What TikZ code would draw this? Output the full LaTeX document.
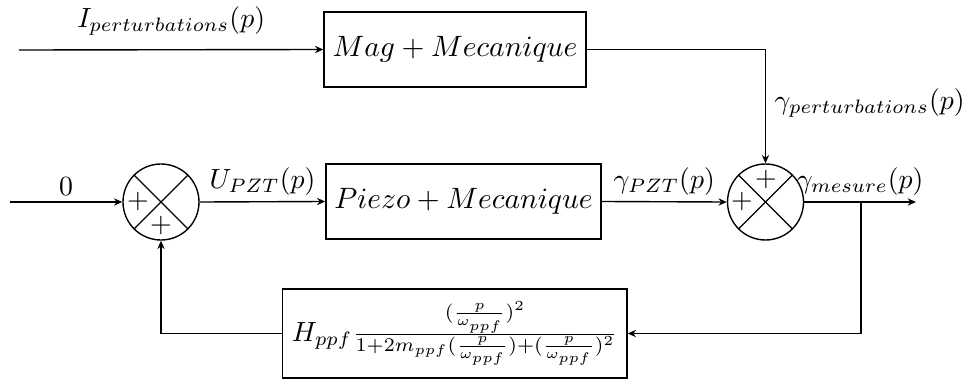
\documentclass[tikz,border=0pt]{standalone}
\usetikzlibrary{arrows.meta}
\begin{document}
\begin{tikzpicture}[x=0.36pt,y=-0.36pt, line width=0.5pt,
  blk/.style={draw, rectangle, inner sep=0pt, line width=0.5pt},
  sumnode/.style={draw, circle, minimum size=27.36pt, inner sep=0pt},
  arr/.style={-{Stealth[length=3pt,width=2.6pt]}},
  lbl/.style={inner sep=2pt},
  pl/.style={inner sep=0pt}]
\useasboundingbox (0,0) rectangle (966,379);
\node[blk, minimum width=94.3pt, minimum height=27pt] (mag) at (455,49.5) {\scalebox{1.06}{$Mag+Mecanique$}};
\node[blk, minimum width=99pt, minimum height=27pt] (piezo) at (463.5,201.5) {\scalebox{1.06}{$Piezo+Mecanique$}};
\node[sumnode] (s1) at (161,202) {};
\node[sumnode] (s2) at (765.5,202) {};
\draw (s1.north west) -- (s1.south east);
\draw (s1.north east) -- (s1.south west);
\draw (s2.north west) -- (s2.south east);
\draw (s2.north east) -- (s2.south west);
\node[pl] (p1a) at (138,202) {$+$};
\node[pl] (p1b) at (161,226) {$+$};
\node[pl] (p2a) at (766,180) {$+$};
\node[pl] (p2b) at (742,202) {$+$};
\node[blk, inner sep=3.33pt, minimum height=32pt, anchor=west] (H) at (282,333.5)
  {$H_{ppf}\frac{(\frac{p}{\omega_{ppf}})^2}{1+2m_{ppf}(\frac{p}{\omega_{ppf}})+(\frac{p}{\omega_{ppf}})^2}$};
\coordinate (in1) at (19,50);
\coordinate (in0) at (10,202);
\coordinate (out) at (916,202);
\coordinate (br) at (861,202);
\draw[arr] (in1) -- node[above, lbl, yshift=2.9pt] (lI) {$I_{perturbations}(p)$} (mag.west);
\draw[arr] (mag.east) -| (s2.north);
\node[anchor=west, inner sep=0pt] (lgp) at (774,103) {$\gamma_{perturbations}(p)$};
\draw[arr] (in0) -- node[above, lbl] (l0) {$0$} (s1.west);
\draw[arr] (s1.east) -- node[above, lbl] (lU) {$U_{PZT}(p)$} (piezo.west);
\draw[arr] (piezo.east) -- node[above, lbl] (lg) {$\gamma_{PZT}(p)$} (s2.west);
\draw[arr] (s2.east) -- node[above, lbl] (lm) {$\gamma_{mesure}(p)$} (out);
\draw[arr] (br) |- (H.east);
\draw[arr] (H.west) -| (s1.south);
\end{tikzpicture}
\end{document}
